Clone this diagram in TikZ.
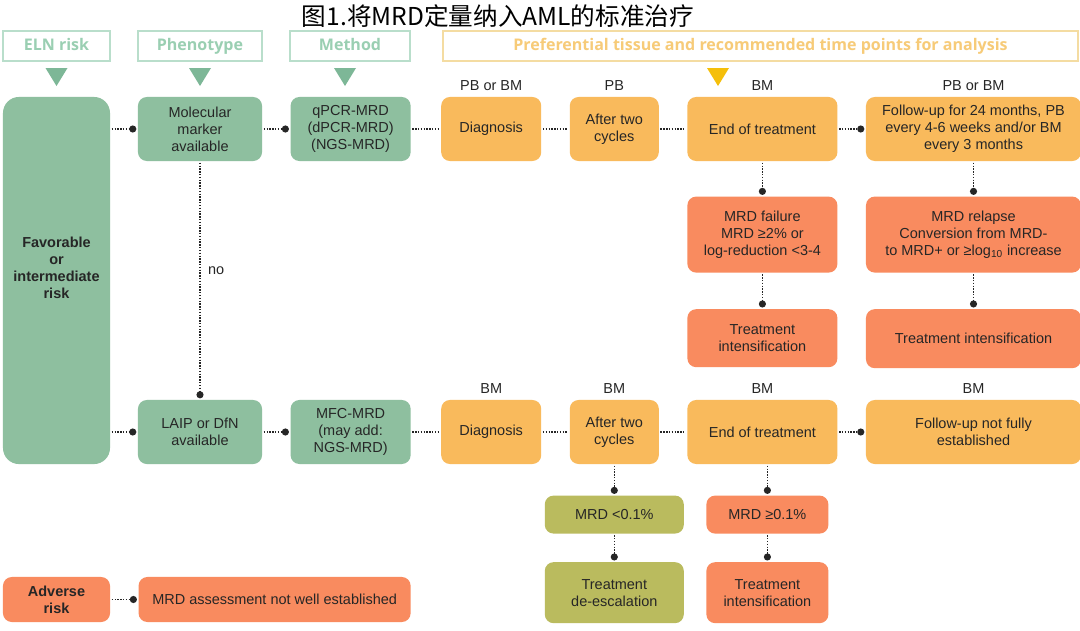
\documentclass[tikz,border=0pt]{standalone}
\usepackage{fontspec}
\setmainfont{Liberation Sans}
\newfontfamily\headfont{Open Sans}
\newfontfamily\cjk{Noto Sans CJK SC}
\usepackage{xcolor}
\usetikzlibrary{arrows.meta, positioning, calc}

\definecolor{mrdgreen}{HTML}{8EBF9F}
\definecolor{mrdorange}{HTML}{F9BA5C}
\definecolor{mrdcoral}{HTML}{F98B5F}
\definecolor{mrdolive}{HTML}{BABB5E}
\definecolor{hdrgreen}{HTML}{9ACFB2}
\definecolor{hdrgreenline}{HTML}{B9DECB}
\definecolor{hdrgold}{HTML}{F7CB78}
\definecolor{hdrgoldline}{HTML}{F4DCA2}
\definecolor{trigreen}{HTML}{7DB797}
\definecolor{trigold}{HTML}{F5BF0A}
\definecolor{boxtext}{HTML}{262626}

\begin{document}
\begin{tikzpicture}[
  x=0.025cm, y=-0.025cm,
  node distance=0.7cm,
  box/.style={rectangle, rounded corners=0.22cm, align=center, inner sep=2pt, text=boxtext, font=\fontsize{10.3}{12.2}\selectfont, minimum height=1.6cm},
  boldbox/.style={box, font=\bfseries\fontsize{10.3}{12.2}\selectfont},
  greenbox/.style={box, fill=mrdgreen},
  orangebox/.style={box, fill=mrdorange},
  coralbox/.style={box, fill=mrdcoral},
  olivebox/.style={box, fill=mrdolive},
  header/.style={rectangle, draw=hdrgreenline, line width=1.2pt, text=hdrgreen, font=\headfont\bfseries\fontsize{11.4}{13}\selectfont, minimum height=0.75cm, inner sep=2pt, text height=1.55ex, text depth=0.45ex},
  tag/.style={font=\fontsize{10.3}{12.2}\selectfont, text=boxtext, inner sep=1pt},
  link/.style={draw=black!85, line width=1.1pt, dash pattern=on 1pt off 1pt, shorten <=1pt, shorten >=1pt},
  linkdot/.style={link, -{Circle[length=5pt]}}
]

\path[use as bounding box, fill=white] (0,0) rectangle (1080,631);

% Title
\node[font=\cjk\fontsize{17.5}{20}\selectfont, inner sep=0pt] (title) at (498,16) {图1.将MRD定量纳入AML的标准治疗};

% Header Row
\node[header, minimum width=2.675cm] (hrisk) at (56.5,46) {ELN risk};
\node[header, minimum width=3.1cm] (hpheno) at (200,46) {Phenotype};
\node[header, minimum width=3.0cm] (hmethod) at (350,46) {Method};
\node[header, minimum width=15.875cm, draw=hdrgoldline, text=hdrgold] (htime) at (760.5,46) {Preferential tissue and recommended time points for analysis};

% Header Triangles
\foreach \x in {56.5,200,345}
  \fill[trigreen] (\x-11,68) -- (\x+11,68) -- (\x,86) -- cycle;
\fill[trigold] (707,68) -- (729,68) -- (718,86) -- cycle;

% Risk Nodes
\node[greenbox, boldbox, minimum width=2.675cm, minimum height=9.175cm, rounded corners=0.4cm, text depth=0.65cm] (fav) at (56.5,280.5) {Favorable\\or\\intermediate\\risk};
\node[coralbox, boldbox, minimum width=2.675cm, minimum height=1.125cm] (adverse) at (56.5,599.5) {Adverse\\risk};
\node[coralbox, minimum width=6.8cm, minimum height=1.125cm, right=of adverse] (nomrd) {MRD assessment not well established};

% Top Row Nodes
\node[greenbox, minimum width=3.1cm] (molec) at (200,129) {Molecular\\marker\\available};
\node[greenbox, minimum width=3.0cm, right=of molec] (qpcr) {qPCR-MRD\\(dPCR-MRD)\\(NGS-MRD)};
\node[orangebox, minimum width=2.5cm, right=0.75cm of qpcr] (diagA) {Diagnosis};
\node[orangebox, minimum width=2.225cm, right=of diagA] (cyclesA) {After two\\cycles};
\node[orangebox, minimum width=3.75cm, right=of cyclesA] (eotA) {End of treatment};
\node[orangebox, minimum width=5.375cm, right=of eotA] (followA) {Follow-up for 24 months, PB\\every 4-6 weeks and/or BM\\every 3 months};

\node[tag, above=0.12cm of diagA] (tdiagA) {PB or BM};
\node[tag, above=0.12cm of cyclesA] (tcyclesA) {PB};
\node[tag, above=0.12cm of eotA] (teotA) {BM};
\node[tag, above=0.12cm of followA] (tfollowA) {PB or BM};

% Top Row Outcomes
\node[coralbox, minimum width=3.75cm, minimum height=1.9cm, below=0.875cm of eotA] (failA) {MRD failure\\MRD ≥2\% or\\log-reduction <3-4};
\node[coralbox, minimum width=3.75cm, minimum height=1.45cm, below=0.9cm of failA] (intensA) {Treatment\\intensification};
\node[coralbox, minimum width=5.375cm, minimum height=1.9cm, below=0.875cm of followA] (relapse) {MRD relapse\\Conversion from MRD-\\to MRD+ or ≥log\textsubscript{10} increase};
\node[coralbox, minimum width=5.375cm, minimum height=1.475cm, below=0.9cm of relapse] (intensB) {Treatment intensification};

% Bottom Row Nodes
\node[greenbox, minimum width=3.1cm] (laip) at (200,432) {LAIP or DfN\\available};
\node[greenbox, minimum width=3.0cm, right=of laip] (mfc) {MFC-MRD\\(may add:\\NGS-MRD)};
\node[orangebox, minimum width=2.5cm, right=0.75cm of mfc] (diagB) {Diagnosis};
\node[orangebox, minimum width=2.225cm, right=of diagB] (cyclesB) {After two\\cycles};
\node[orangebox, minimum width=3.75cm, right=of cyclesB] (eotB) {End of treatment};
\node[orangebox, minimum width=5.375cm, right=of eotB] (followB) {Follow-up not fully\\established};

\node[tag, above=0.12cm of diagB] (tdiagB) {BM};
\node[tag, above=0.12cm of cyclesB] (tcyclesB) {BM};
\node[tag, above=0.12cm of eotB] (teotB) {BM};
\node[tag, above=0.12cm of followB] (tfollowB) {BM};

% Bottom Row Outcomes
\node[olivebox, minimum width=3.475cm, minimum height=0.95cm, below=0.775cm of cyclesB] (mrdlow) {MRD <0.1\%};
\node[olivebox, minimum width=3.475cm, minimum height=1.525cm, below=0.7cm of mrdlow] (deesc) {Treatment\\de-escalation};
\node[coralbox, minimum width=3.05cm, minimum height=0.95cm, below=0.775cm of eotB, xshift=0.125cm] (mrdhigh) {MRD ≥0.1\%};
\node[coralbox, minimum width=3.05cm, minimum height=1.525cm, below=0.7cm of mrdhigh] (intensC) {Treatment\\intensification};

% Top Row Links
\draw[linkdot] (molec -| fav.east) -- (molec.west);
\draw[linkdot] (molec) -- (qpcr);
\draw[link] (qpcr) -- (diagA);
\draw[link] (diagA) -- (cyclesA);
\draw[link] (cyclesA) -- (eotA);
\draw[linkdot] (eotA) -- (followA);
\draw[linkdot] (eotA) -- (failA);
\draw[linkdot] (failA) -- (intensA);
\draw[linkdot] (followA) -- (relapse);
\draw[linkdot] (relapse) -- (intensB);
\draw[linkdot] (molec) -- node[tag, right=0.15cm, pos=0.46] {no} (laip);

% Bottom Row Links
\draw[linkdot] (laip -| fav.east) -- (laip.west);
\draw[linkdot] (laip) -- (mfc);
\draw[link] (mfc) -- (diagB);
\draw[link] (diagB) -- (cyclesB);
\draw[link] (cyclesB) -- (eotB);
\draw[linkdot] (eotB) -- (followB);
\draw[linkdot] (cyclesB) -- (mrdlow);
\draw[linkdot] (mrdlow) -- (deesc);
\draw[linkdot] (mrdhigh.north |- eotB.south) -- (mrdhigh.north);
\draw[linkdot] (mrdhigh) -- (intensC);
\draw[linkdot] (adverse) -- (nomrd);

\end{tikzpicture}
\end{document}
